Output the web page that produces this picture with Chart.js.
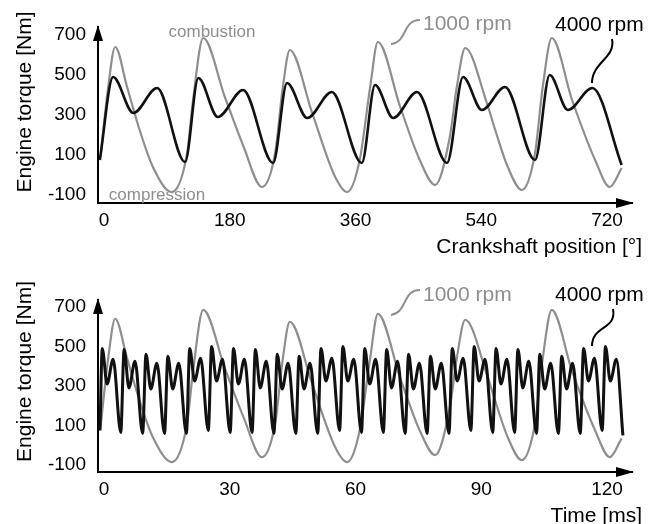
<!DOCTYPE html>
<html>
<head>
<meta charset="utf-8">
<script src="https://cdn.jsdelivr.net/npm/chart.js@4.4.1/dist/chart.umd.min.js"></script>
<style>
  body { margin: 0; background: #fff; }
  canvas { position: absolute; left: 0; }
  #topChart { top: 0; }
  #bottomChart { top: 262px; }
</style>
</head>
<body>
<canvas id="topChart" width="657" height="262"></canvas>
<canvas id="bottomChart" width="657" height="262"></canvas>
<script>
// tick labels
var crankTicks = [0, 180, 360, 540, 720];
var timeTicks = [0, 30, 60, 90, 120];
var torqueTicks = [-100, 100, 300, 500, 700];

// 1000 rpm vs crankshaft position [deg]
var gray1000DegX = [-5, 6, 16, 33, 51, 70, 97, 119, 127, 142, 173, 200, 226, 245, 256, 266, 298, 331, 348,
  366, 381, 392, 424, 452, 474, 495, 505, 517, 548, 560, 578, 598, 617, 628, 641, 670, 703, 724, 741];
var gray1000DegY = [90, 440, 640, 440, 225, 40, -85, 110, 360, 685, 390, 140, -60, 110, 440, 625, 310, -10, -85,
  75, 440, 665, 340, 75, -50, 190, 440, 635, 360, 225, 40, -75, 110, 440, 685, 375, 75, -60, 35];

// 4000 rpm vs crankshaft position [deg]
var black4000DegX = [-6, 13, 42, 76, 116, 135, 163, 199, 242, 262, 291, 326, 369, 388, 414, 448, 491,
  514, 541, 574, 617, 638, 664, 699, 741];
var black4000DegY = [75, 490, 310, 435, 65, 485, 290, 425, 60, 460, 285, 415, 60, 450, 285, 415, 60,
  490, 325, 440, 75, 500, 325, 435, 50];

// 1000 rpm vs time [ms]
var gray1000MsX = [-0.83, 1.0, 2.67, 5.5, 8.5, 11.67, 16.17, 19.83, 21.17, 23.67, 28.83, 33.33, 37.67, 40.83,
  42.67, 44.33, 49.67, 55.17, 58.0, 61.0, 63.5, 65.33, 70.67, 75.33, 79.0, 82.5, 84.17, 86.17, 91.33, 93.33,
  96.33, 99.67, 102.83, 104.67, 106.83, 111.67, 117.17, 120.67, 123.5];
var gray1000MsY = [90, 440, 640, 440, 225, 40, -85, 110, 360, 685, 390, 140, -60, 110, 440, 625, 310, -10, -85,
  75, 440, 665, 340, 75, -50, 190, 440, 635, 360, 225, 40, -75, 110, 440, 685, 375, 75, -60, 35];

// 4000 rpm vs time [ms]
var black4000MsX = [-0.95,
  -0.42, 0.73, 2.18, 4.0, 4.8, 5.95, 7.4, 9.22, 10.02, 11.17, 12.62, 14.44,
  15.24, 16.39, 17.84, 19.66, 20.46, 21.61, 23.06, 24.88, 25.68, 26.83, 28.28, 30.1,
  30.9, 32.05, 33.5, 35.32, 36.12, 37.27, 38.72, 40.54, 41.34, 42.49, 43.94, 45.76,
  46.56, 47.71, 49.16, 50.98, 51.78, 52.93, 54.38, 56.2, 57.0, 58.15, 59.6, 61.42,
  62.22, 63.37, 64.82, 66.64, 67.44, 68.59, 70.04, 71.86, 72.66, 73.81, 75.26, 77.08,
  77.88, 79.03, 80.48, 82.3, 83.1, 84.25, 85.7, 87.52, 88.32, 89.47, 90.92, 92.74,
  93.54, 94.69, 96.14, 97.96, 98.76, 99.91, 101.36, 103.18, 103.98, 105.13, 106.58, 108.4,
  109.2, 110.35, 111.8, 113.62, 114.42, 115.57, 117.02, 118.84, 119.64, 120.79, 122.24, 123.8];
var black4000MsY = [75,
  490, 310, 435, 65, 485, 290, 425, 60, 460, 285, 415, 60,
  450, 285, 415, 60, 490, 325, 440, 75, 500, 325, 435, 65,
  490, 310, 435, 65, 485, 290, 425, 60, 460, 285, 415, 60,
  450, 285, 415, 60, 490, 325, 440, 75, 500, 325, 435, 65,
  490, 310, 435, 65, 485, 290, 425, 60, 460, 285, 415, 60,
  450, 285, 415, 60, 490, 325, 440, 75, 500, 325, 435, 65,
  490, 310, 435, 65, 485, 290, 425, 60, 460, 285, 415, 60,
  450, 285, 415, 60, 490, 325, 440, 75, 500, 325, 435, 50];

var GRAY = '#8e8e8e';
var FONT = "'Liberation Sans', Arial, sans-serif";

function toPoints(xs, ys) {
  return xs.map(function (x, i) { return {x: x, y: ys[i]}; });
}

// arrows on axes, axis titles and the callout labels
var decor = {
  id: 'decor',
  afterDraw: function (chart, args, opts) {
    var ctx = chart.ctx;
    var a = chart.chartArea;
    ctx.save();
    ctx.fillStyle = '#000';
    ctx.beginPath();
    ctx.moveTo(a.left, a.top - 2);
    ctx.lineTo(a.left - 5, a.top + 14);
    ctx.lineTo(a.left + 5, a.top + 14);
    ctx.closePath();
    ctx.fill();
    ctx.beginPath();
    ctx.moveTo(a.right + 2, a.bottom);
    ctx.lineTo(a.right - 16, a.bottom - 5);
    ctx.lineTo(a.right - 16, a.bottom + 5);
    ctx.closePath();
    ctx.fill();

    opts.leaders.forEach(function (l) {
      var p = l.pts;
      ctx.strokeStyle = l.color;
      ctx.lineWidth = 2;
      ctx.beginPath();
      ctx.moveTo(p[0], p[1]);
      ctx.bezierCurveTo(p[2], p[3], p[4], p[5], p[6], p[7]);
      ctx.stroke();
    });

    opts.texts.forEach(function (t) {
      ctx.save();
      ctx.fillStyle = t.color || '#000';
      ctx.font = t.size + 'px ' + FONT;
      ctx.textAlign = t.align || 'left';
      ctx.textBaseline = t.baseline || 'alphabetic';
      ctx.translate(t.x, t.y);
      if (t.rotate) ctx.rotate(-Math.PI / 2);
      ctx.fillText(t.text, 0, 0);
      ctx.restore();
    });
    ctx.restore();
  }
};

function makeChart(id, cfg) {
  return new Chart(document.getElementById(id), {
    type: 'line',
    data: {
      datasets: [{
        data: toPoints(cfg.blackX, cfg.blackY),
        borderColor: '#111',
        borderWidth: cfg.blackWidth,
        pointRadius: 0,
        cubicInterpolationMode: 'monotone',
        fill: false,
        order: 0
      }, {
        data: toPoints(cfg.grayX, cfg.grayY),
        borderColor: GRAY,
        borderWidth: 2.2,
        pointRadius: 0,
        cubicInterpolationMode: 'monotone',
        fill: false,
        order: 1
      }]
    },
    options: {
      responsive: false,
      animation: false,
      events: [],
      layout: {padding: {left: 0, right: 25, top: cfg.padTop, bottom: 0}},
      plugins: {
        legend: {display: false},
        tooltip: {enabled: false},
        decor: {texts: cfg.texts, leaders: cfg.leaders}
      },
      scales: {
        x: {
          type: 'linear',
          min: cfg.xMin,
          max: cfg.xMax,
          border: {display: true, color: '#000', width: 2},
          grid: {display: false, drawTicks: false},
          ticks: {color: '#000', font: {family: FONT, size: 19}, padding: 6},
          afterBuildTicks: function (s) { s.ticks = cfg.xTicks.map(function (v) { return {value: v}; }); },
          afterFit: function (s) { s.height = cfg.xHeight; }
        },
        y: {
          type: 'linear',
          min: cfg.yMin,
          max: cfg.yMax,
          border: {display: true, color: '#000', width: 2},
          grid: {display: false, drawTicks: false},
          ticks: {color: '#000', font: {family: FONT, size: 19}, padding: 12},
          afterBuildTicks: function (s) { s.ticks = torqueTicks.map(function (v) { return {value: v}; }); },
          afterFit: function (s) { s.width = 98; }
        }
      }
    },
    plugins: [decor]
  });
}

makeChart('topChart', {
  grayX: gray1000DegX, grayY: gray1000DegY,
  blackX: black4000DegX, blackY: black4000DegY,
  blackWidth: 2.6,
  xTicks: crankTicks, xMin: -8.6, xMax: 755.8,
  yMin: -140, yMax: 740,
  padTop: 27, xHeight: 59,
  texts: [
    {text: 'combustion', x: 212, y: 36.5, size: 17, color: GRAY, align: 'center'},
    {text: 'compression', x: 157, y: 200, size: 17, color: GRAY, align: 'center'},
    {text: '1000 rpm', x: 423, y: 30, size: 21, color: GRAY},
    {text: '4000 rpm', x: 555, y: 30.5, size: 21, color: '#000'},
    {text: 'Crankshaft position [°]', x: 642, y: 253, size: 21, align: 'right'},
    {text: 'Engine torque [Nm]', x: 25, y: 102, size: 21, align: 'center', baseline: 'middle', rotate: true}
  ],
  leaders: [
    {color: GRAY, pts: [420, 20, 402, 20, 408, 42, 391, 44]},
    {color: '#000', pts: [612, 39, 616, 58, 592, 62, 592, 83]}
  ]
});

makeChart('bottomChart', {
  grayX: gray1000MsX, grayY: gray1000MsY,
  blackX: black4000MsX, blackY: black4000MsY,
  blackWidth: 3,
  xTicks: timeTicks, xMin: -1.43, xMax: 125.97,
  yMin: -135.4, yMax: 735,
  padTop: 38, xHeight: 52,
  texts: [
    {text: '1000 rpm', x: 423, y: 38.5, size: 21, color: GRAY},
    {text: '4000 rpm', x: 555, y: 38.7, size: 21, color: '#000'},
    {text: 'Time [ms]', x: 642, y: 259.5, size: 21, align: 'right'},
    {text: 'Engine torque [Nm]', x: 25, y: 109.5, size: 21, align: 'center', baseline: 'middle', rotate: true}
  ],
  leaders: [
    {color: GRAY, pts: [420, 28, 402, 28, 408, 50, 391, 53]},
    {color: '#000', pts: [613, 47, 617, 68, 592, 63, 592, 84]}
  ]
});
</script>
</body>
</html>
